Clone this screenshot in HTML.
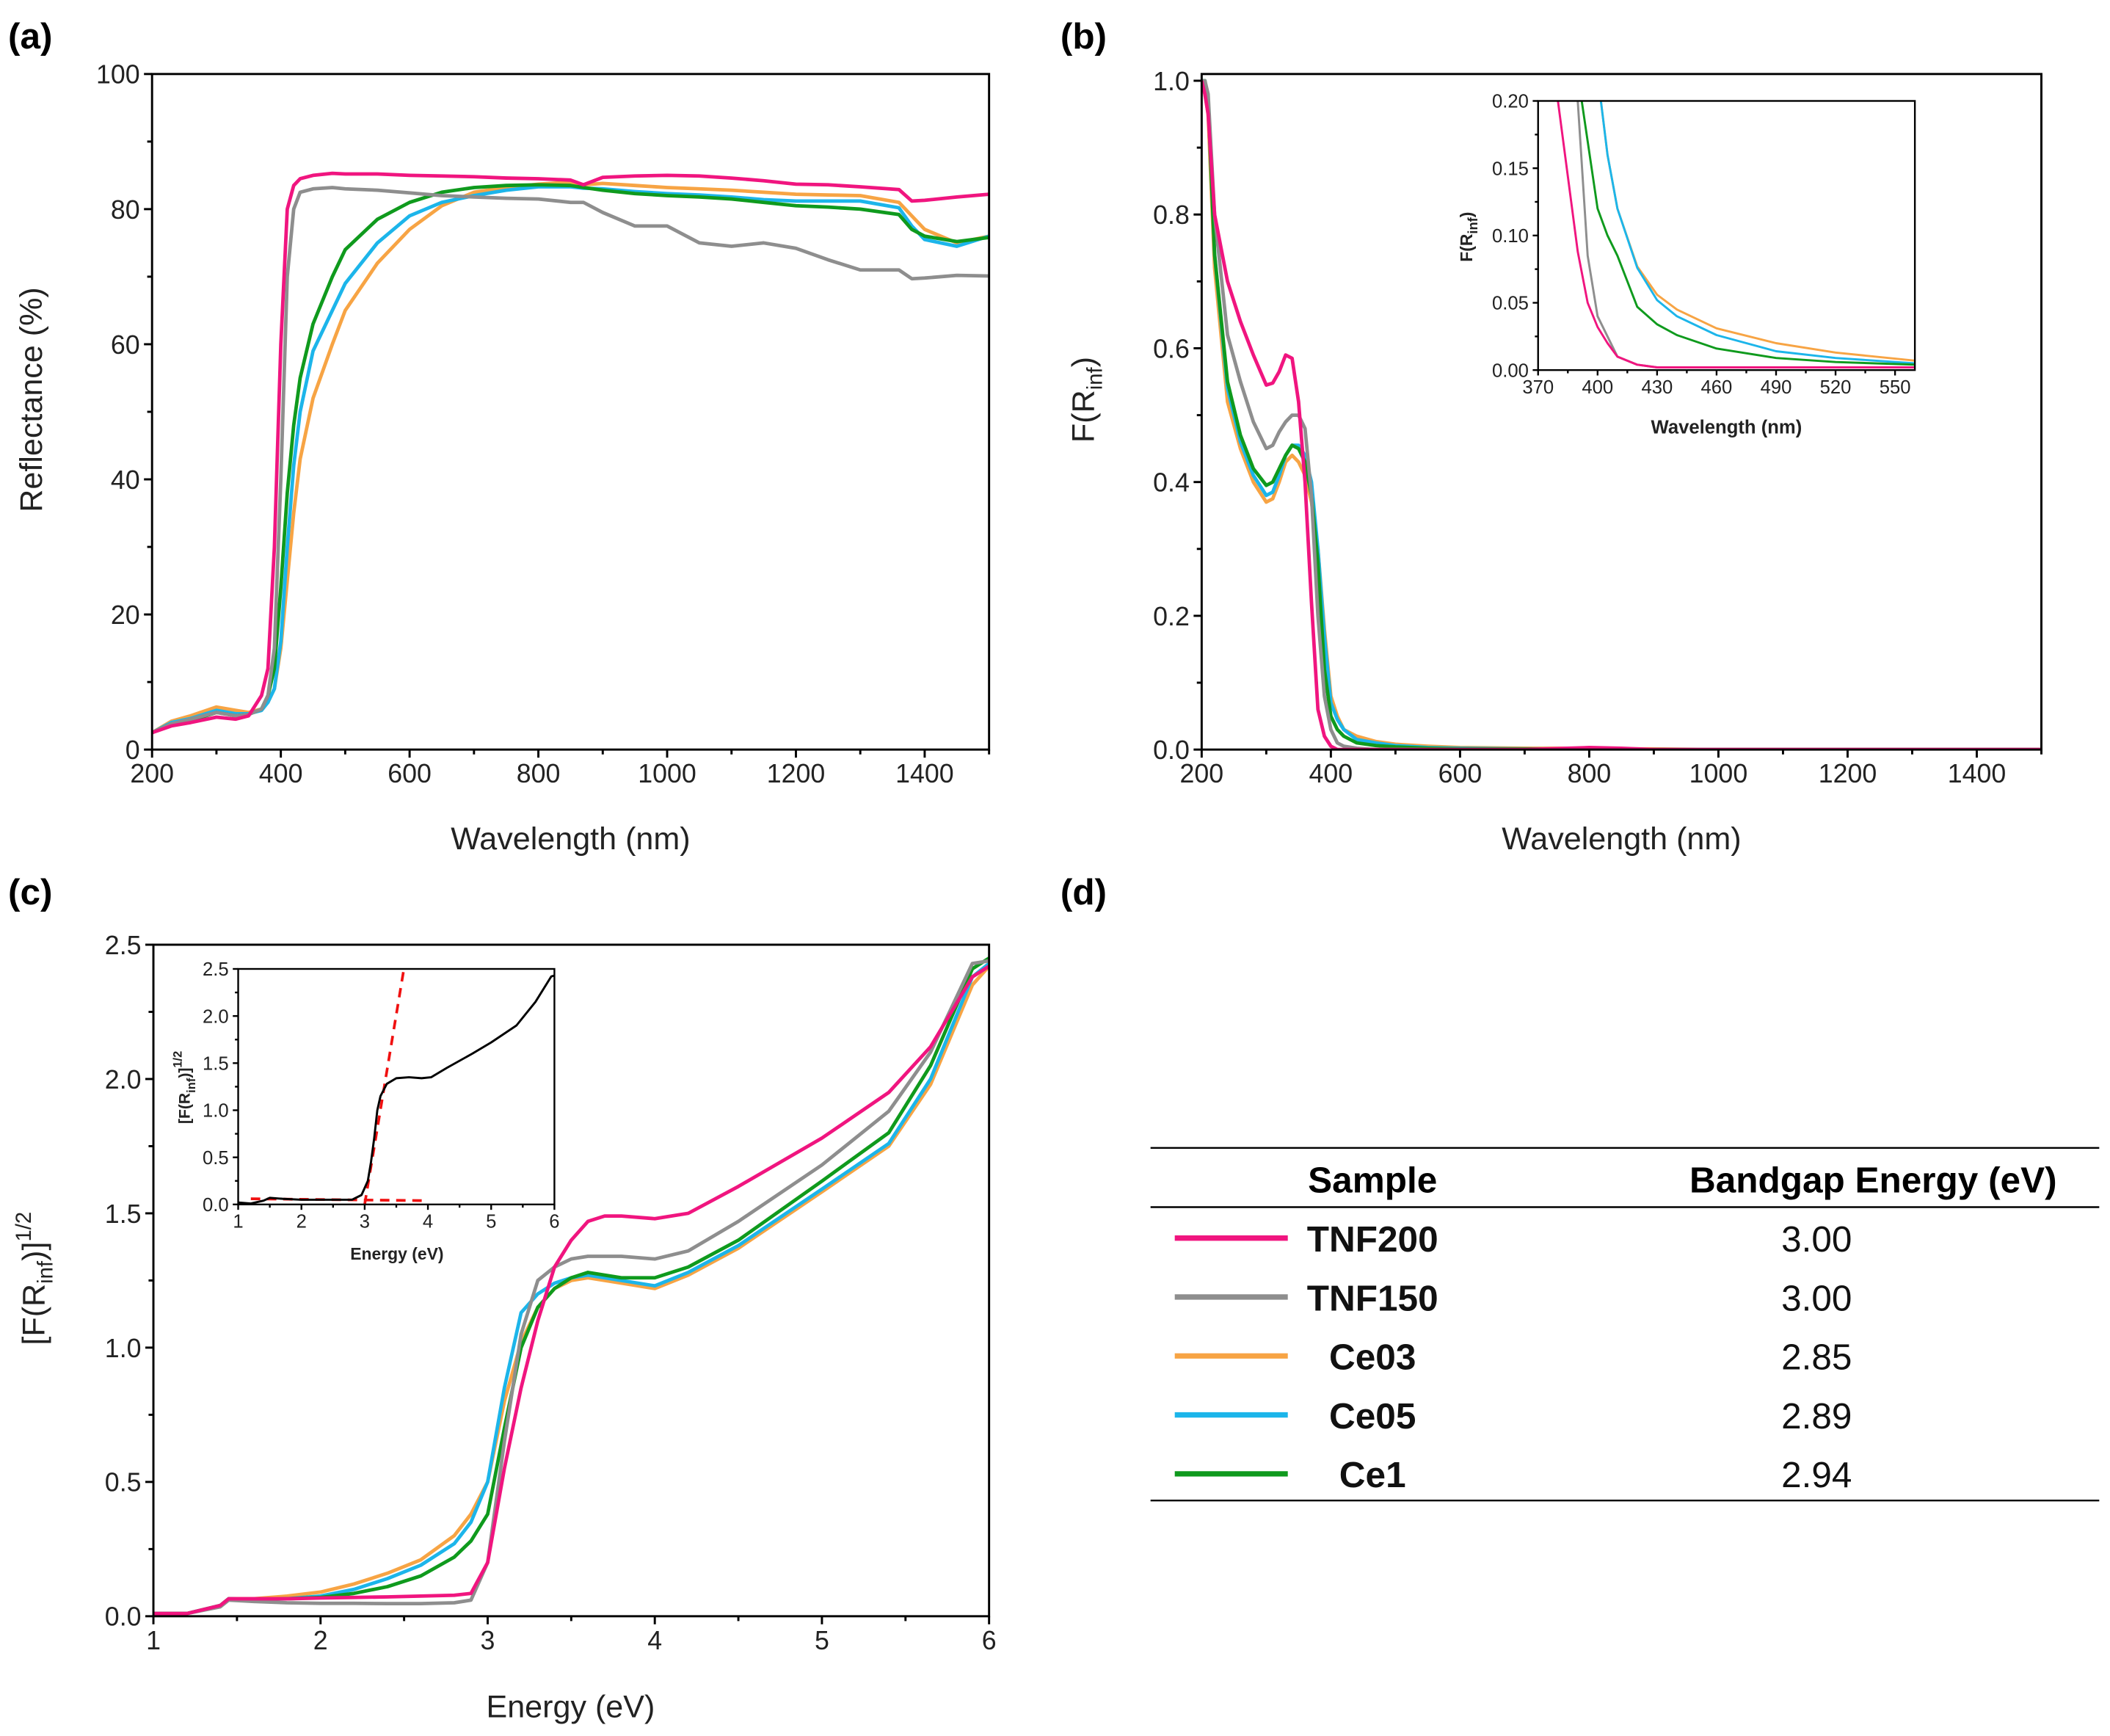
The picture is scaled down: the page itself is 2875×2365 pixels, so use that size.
<!DOCTYPE html>
<html><head><meta charset="utf-8">
<style>
html,body{margin:0;padding:0;background:#fff;}
svg{display:block;font-family:"Liberation Sans",Arial,sans-serif;}
</style></head>
<body>
<svg id="fig" width="2875" height="2365" viewBox="0 0 1568 1290" preserveAspectRatio="none" xmlns="http://www.w3.org/2000/svg">
<text x="6" y="36" font-size="27" font-weight="bold">(a)</text>
<text x="788" y="36" font-size="27" font-weight="bold">(b)</text>
<text x="6" y="672" font-size="27" font-weight="bold">(c)</text>
<text x="788" y="672" font-size="27" font-weight="bold">(d)</text>
<g id="layer"></g>
<g>
<line x1="855" y1="853" x2="1560" y2="853" stroke="#000" stroke-width="1.3"/>
<line x1="855" y1="897" x2="1560" y2="897" stroke="#000" stroke-width="1.3"/>
<line x1="855" y1="1115" x2="1560" y2="1115" stroke="#000" stroke-width="1.3"/>
<text x="1020" y="886" font-size="27" font-weight="bold" text-anchor="middle">Sample</text>
<text x="1392" y="886" font-size="27" font-weight="bold" text-anchor="middle">Bandgap Energy (eV)</text>
<g id="rows"></g>
</g>
</svg>
<script>
const NS="http://www.w3.org/2000/svg";
const colors={TNF200:"#f0157f",TNF150:"#8e8e8e",Ce03:"#f7a444",Ce05:"#1cb5ea",Ce1:"#0f9a1d"};
const order=["Ce03","Ce05","Ce1","TNF150","TNF200"];

// Panel (a) data
const aX=[200,230,260,300,330,350,370,380,390,400,410,420,430,450,480,500,550,600,650,700,750,800,850,870,900,950,1000,1050,1100,1150,1200,1250,1300,1360,1380,1400,1450,1500];
const aTNF200=[2.5,3.5,4,4.8,4.5,5,8,12,30,60,80,83.5,84.5,85,85.3,85.2,85.2,85,84.9,84.8,84.6,84.5,84.3,83.6,84.7,84.9,85,84.9,84.6,84.2,83.7,83.6,83.3,82.9,81.2,81.3,81.8,82.2];
const aTNF150=[2.5,3.8,4.5,5.5,5,5.2,6,8,15,40,70,80,82.5,83,83.2,83,82.8,82.4,82,81.8,81.6,81.5,81,81,79.5,77.5,77.5,75,74.5,75,74.2,72.5,71,71,69.7,69.8,70.2,70.1];
const aCe03=[2.5,4.2,5,6.3,5.8,5.5,6,7,9,15,25,35,43,52,60,65,72,77,80.5,82.5,83.2,83.7,84,83.6,83.8,83.5,83.2,83,82.8,82.5,82.2,82.1,82,81,79,77,75,76];
const aCe05=[2.5,4,4.6,5.8,5.3,5.3,5.8,7,9,16,30,42,50,59,65,69,75,79,81,82,82.8,83.3,83.3,83.1,83,82.6,82.3,82.1,81.8,81.4,81.2,81.2,81.2,80.2,77.5,75.5,74.5,76];
const aCe1=[2.5,3.8,4.3,5.5,5,5.2,6,8,12,24,38,48,55,63,70,74,78.5,81,82.5,83.2,83.5,83.6,83.5,83.2,82.8,82.3,82,81.8,81.5,81,80.5,80.3,80,79.2,77,76,75.2,75.8];
const aYTicks=[0,20,40,60,80,100];
const aXTicks=[200,400,600,800,1000,1200,1400];

// Panel (b) data
const bX=[200,205,210,220,240,260,280,300,310,320,330,340,350,360,370,380,390,400,410,420,440,470,500,550,600,700,800,850,900,1000,1500];
const bTNF200=[1.0,0.98,0.95,0.80,0.70,0.64,0.59,0.545,0.548,0.565,0.59,0.585,0.52,0.4,0.22,0.06,0.02,0.005,0,0,0,0,0,0,0,0,0.003,0.002,0,0,0];
const bTNF150=[1.0,1.0,0.98,0.80,0.62,0.55,0.49,0.45,0.455,0.475,0.49,0.5,0.5,0.48,0.38,0.2,0.08,0.03,0.01,0.005,0.002,0,0,0,0,0,0,0,0,0,0];
const bCe03=[1.0,0.98,0.95,0.72,0.52,0.45,0.40,0.37,0.375,0.40,0.43,0.44,0.43,0.41,0.37,0.3,0.18,0.08,0.05,0.03,0.02,0.012,0.008,0.005,0.003,0.002,0.002,0.001,0.001,0,0];
const bCe05=[1.0,1.0,0.97,0.74,0.54,0.46,0.41,0.38,0.385,0.41,0.44,0.455,0.455,0.44,0.4,0.3,0.17,0.07,0.045,0.03,0.015,0.01,0.006,0.003,0.002,0.001,0.001,0,0,0,0];
const bCe1=[1.0,1.0,0.97,0.74,0.55,0.47,0.42,0.395,0.4,0.42,0.44,0.455,0.45,0.43,0.38,0.28,0.12,0.05,0.03,0.02,0.01,0.006,0.004,0.002,0.001,0.001,0,0,0,0,0];
const bYTicks=[0,0.2,0.4,0.6,0.8,1.0];
const bXTicks=[200,400,600,800,1000,1200,1400];

// Inset (b) data
const biX=[370,380,390,395,400,405,410,420,430,440,460,490,520,560];
const biTNF200=[0.25,0.2,0.088,0.05,0.032,0.02,0.01,0.004,0.002,0.002,0.002,0.002,0.002,0.002];
const biTNF150=[0.4,0.3,0.2,0.085,0.04,0.025,0.01,0.004,0.002,0.002,0.002,0.002,0.002,0.002];
const biCe03=[0.6,0.45,0.32,0.26,0.22,0.16,0.12,0.077,0.056,0.045,0.031,0.02,0.013,0.007];
const biCe05=[0.6,0.45,0.32,0.26,0.22,0.16,0.12,0.076,0.052,0.04,0.026,0.014,0.009,0.005];
const biCe1=[0.5,0.35,0.22,0.17,0.12,0.1,0.085,0.047,0.034,0.026,0.016,0.009,0.006,0.004];
const biYTicks=[0,0.05,0.1,0.15,0.2];
const biYLabels=["0.00","0.05","0.10","0.15","0.20"];
const biXTicks=[370,400,430,460,490,520,550];

// Panel (c) data
const cX=[1,1.2,1.4,1.45,1.6,1.8,2,2.2,2.4,2.6,2.8,2.9,3,3.1,3.2,3.3,3.4,3.5,3.6,3.7,3.8,4,4.2,4.5,5,5.4,5.65,5.9,6];
const cTNF200=[0.01,0.01,0.04,0.065,0.065,0.065,0.068,0.07,0.072,0.075,0.078,0.085,0.2,0.55,0.85,1.1,1.3,1.4,1.47,1.49,1.49,1.48,1.5,1.6,1.78,1.95,2.12,2.38,2.42];
const cTNF150=[0.01,0.01,0.035,0.06,0.055,0.05,0.048,0.048,0.047,0.047,0.05,0.06,0.2,0.65,1.05,1.25,1.3,1.33,1.34,1.34,1.34,1.33,1.36,1.47,1.68,1.88,2.1,2.43,2.44];
const cCe03=[0.01,0.01,0.04,0.065,0.065,0.075,0.09,0.12,0.16,0.21,0.3,0.38,0.5,0.8,1.02,1.15,1.22,1.25,1.26,1.25,1.24,1.22,1.27,1.37,1.58,1.75,1.98,2.35,2.42];
const cCe05=[0.01,0.01,0.04,0.065,0.062,0.065,0.075,0.1,0.14,0.19,0.27,0.35,0.5,0.85,1.13,1.2,1.24,1.26,1.27,1.26,1.25,1.23,1.28,1.38,1.59,1.76,2.0,2.38,2.43];
const cCe1=[0.01,0.01,0.04,0.065,0.062,0.065,0.07,0.085,0.11,0.15,0.22,0.28,0.38,0.7,1.0,1.15,1.22,1.26,1.28,1.27,1.26,1.26,1.3,1.4,1.62,1.8,2.05,2.41,2.45];
const cYTicks=[0,0.5,1.0,1.5,2.0,2.5];
const cXTicks=[1,2,3,4,5,6];

// Inset (c) data
const ciX=[1,1.2,1.4,1.5,1.7,2,2.5,2.8,2.95,3.05,3.1,3.15,3.2,3.25,3.35,3.5,3.7,3.9,4.05,4.3,4.7,5.0,5.4,5.7,5.95,6];
const ciY=[0.02,0.01,0.04,0.07,0.06,0.05,0.05,0.05,0.1,0.25,0.45,0.7,1.0,1.15,1.28,1.34,1.35,1.34,1.35,1.45,1.6,1.72,1.9,2.15,2.42,2.43];
const ciBaseX=[1.2,4.0];
const ciBaseY=[0.06,0.04];
const ciFitX=[3.0,3.62];
const ciFitY=[0,2.5];

// Table data
const tSamples=["TNF200","TNF150","Ce03","Ce05","Ce1"];
const tBandgap=["3.00","3.00","2.85","2.89","2.94"];

const layer=document.getElementById('layer');
function el(tag,attrs,parent){const e=document.createElementNS(NS,tag);for(const k in attrs)e.setAttribute(k,attrs[k]);(parent||layer).appendChild(e);return e;}
function lin(d0,d1,r0,r1){return v=>r0+(v-d0)*(r1-r0)/(d1-d0);}

function axes(cfg){
  const g=el('g',{});
  
  
  const sx=lin(cfg.xd[0],cfg.xd[1],cfg.L,cfg.R), sy=lin(cfg.yd[0],cfg.yd[1],cfg.B,cfg.yTopPx);
  const cid='clip-'+cfg.name;
  const cp=el('clipPath',{id:cid},g);
  el('rect',{x:cfg.L,y:cfg.T,width:cfg.R-cfg.L,height:cfg.B-cfg.T},cp);
  const tl=cfg.tick, fs=cfg.fs;
  cfg.yTicks.forEach((v,i)=>{
    const y=sy(v);
    el('line',{x1:cfg.L-tl,y1:y,x2:cfg.L,y2:y,stroke:'#000','stroke-width':cfg.sw},g);
    const t=el('text',{x:cfg.L-tl-3,y:y+fs*0.36,'font-size':fs,'text-anchor':'end','font-weight':cfg.bold?'bold':'normal',fill:'#222'},g);
    t.textContent=cfg.yLabels?cfg.yLabels[i]:cfg.yFmt(v);
    
    
  });
  for(let i=0;i<cfg.yTicks.length-1;i++){
    const y=sy((cfg.yTicks[i]+cfg.yTicks[i+1])/2);
    el('line',{x1:cfg.L-tl*0.6,y1:y,x2:cfg.L,y2:y,stroke:'#000','stroke-width':cfg.sw},g);
  }
  cfg.xTicks.forEach((v,i)=>{
    const x=sx(v);
    el('line',{x1:x,y1:cfg.B,x2:x,y2:cfg.B+tl,stroke:'#000','stroke-width':cfg.sw},g);
    const t=el('text',{x:x,y:cfg.B+tl+fs*0.95,'font-size':fs,'text-anchor':'middle','font-weight':cfg.bold?'bold':'normal',fill:'#222'},g);
    t.textContent=cfg.xFmt(v);
    
    
  });
  for(let i=0;i<cfg.xTicks.length;i++){
    const a=cfg.xTicks[i], b=i+1<cfg.xTicks.length?cfg.xTicks[i+1]:a+(a-cfg.xTicks[i-1]);
    const m=(a+b)/2; if(m<cfg.xd[1]+1e-9){const x=sx(m);
    el('line',{x1:x,y1:cfg.B,x2:x,y2:cfg.B+tl*0.6,stroke:'#000','stroke-width':cfg.sw},g);}
  }
  const sg=el('g',{'clip-path':'url(#'+cid+')'},g);
  cfg.series.forEach(s=>{
    let d='';
    s.x.forEach((xv,i)=>{d+=(i?'L':'M')+sx(xv).toFixed(2)+','+sy(s.y[i]).toFixed(2);});
    const p=el('path',{d:d,fill:'none',stroke:s.color,'stroke-width':s.w,'stroke-linejoin':'round','stroke-dasharray':s.dash||'none'},sg);
    
    
  });
  el('rect',{x:cfg.L,y:cfg.T,width:cfg.R-cfg.L,height:cfg.B-cfg.T,fill:'none',stroke:'#000','stroke-width':cfg.sw},g);
  return {g,sx,sy};
}
function sers(prefix,x,map,w){return order.map(k=>({name:prefix+'-'+k.toLowerCase()+'-line',x:x,y:map[k],color:colors[k],w:w}));}

axes({name:'reflectance-chart',L:113,R:735,T:55,B:557,yTopPx:55,xd:[200,1500],yd:[0,100],tick:6,fs:19.5,sw:1.6,
  yTicks:aYTicks,xTicks:aXTicks,yFmt:v=>String(v),xFmt:v=>String(v),
  series:sers('reflectance',aX,{TNF200:aTNF200,TNF150:aTNF150,Ce03:aCe03,Ce05:aCe05,Ce1:aCe1},2.6)});
axes({name:'km-function-chart',L:893,R:1517,T:55,B:557,yTopPx:60,xd:[200,1500],yd:[0,1],tick:6,fs:19.5,sw:1.6,
  yTicks:bYTicks,xTicks:bXTicks,yFmt:v=>v.toFixed(1),xFmt:v=>String(v),
  series:sers('km',bX,{TNF200:bTNF200,TNF150:bTNF150,Ce03:bCe03,Ce05:bCe05,Ce1:bCe1},2.6)});
axes({name:'km-inset-chart',L:1143,R:1423,T:75,B:275,yTopPx:75,xd:[370,560],yd:[0,0.2],tick:4,fs:14,sw:1.3,
  yTicks:biYTicks,yLabels:biYLabels,xTicks:biXTicks,xFmt:v=>String(v),
  series:sers('km-inset',biX,{TNF200:biTNF200,TNF150:biTNF150,Ce03:biCe03,Ce05:biCe05,Ce1:biCe1},1.6)});
axes({name:'tauc-chart',L:114,R:735,T:702,B:1201,yTopPx:702,xd:[1,6],yd:[0,2.5],tick:6,fs:19.5,sw:1.6,
  yTicks:cYTicks,xTicks:cXTicks,yFmt:v=>v.toFixed(1),xFmt:v=>String(v),
  series:sers('tauc',cX,{TNF200:cTNF200,TNF150:cTNF150,Ce03:cCe03,Ce05:cCe05,Ce1:cCe1},2.6)});
axes({name:'tauc-inset-chart',L:177,R:412,T:720,B:895,yTopPx:720,xd:[1,6],yd:[0,2.5],tick:4,fs:14,sw:1.3,
  yTicks:cYTicks,xTicks:cXTicks,yFmt:v=>v.toFixed(1),xFmt:v=>String(v),
  series:[{name:'tauc-inset-baseline-fit',x:ciBaseX,y:ciBaseY,color:'#f01010',w:2,dash:'7,5'},
          {name:'tauc-inset-edge-fit',x:ciFitX,y:ciFitY,color:'#f01010',w:2,dash:'7,5'},
          {name:'tauc-inset-curve',x:ciX,y:ciY,color:'#000',w:1.6}]});

function title(txt,x,y,fs,rot,bold,name){
  const t=el('text',{x:x,y:y,'font-size':fs,'text-anchor':'middle','font-weight':bold?'bold':'normal',fill:'#222',transform:rot?`rotate(-90 ${x} ${y})`:''});
  t.innerHTML=txt;
  
  
}
title('Wavelength (nm)',424,631,23.5,false,false,'x-axis-title-a');
title('Reflectance (%)',31,297,23.5,true,false,'y-axis-title-a');
title('Wavelength (nm)',1205,631,23.5,false,false,'x-axis-title-b');
title('F(R<tspan font-size="16" dy="6">inf</tspan><tspan dy="-6">)</tspan>',813,297,23.5,true,false,'y-axis-title-b');
title('Wavelength (nm)',1283,322,14,false,true,'x-axis-title-inset-b');
title('F(R<tspan font-size="10" dy="4">inf</tspan><tspan dy="-4">)</tspan>',1094,176,12.5,true,true,'y-axis-title-inset-b');
title('Energy (eV)',424,1276,23.5,false,false,'x-axis-title-c');
title('[F(R<tspan font-size="16" dy="6">inf</tspan><tspan dy="-6">)]</tspan><tspan font-size="16" dy="-10">1/2</tspan>',33,950,23.5,true,false,'y-axis-title-c');
title('Energy (eV)',295,936,12.5,false,true,'x-axis-title-inset-c');
title('[F(R<tspan font-size="9" dy="4">inf</tspan><tspan dy="-4">)]</tspan><tspan font-size="9" dy="-6">1/2</tspan>',141,808,11.5,true,true,'y-axis-title-inset-c');

const rows=document.getElementById('rows');
tSamples.forEach((s,i)=>{
  const y=920+i*43.8;
  const g=el('g',{},rows);
  
  
  el('line',{x1:873,y1:y,x2:957,y2:y,stroke:colors[s],'stroke-width':4},g);
  const t=el('text',{x:1020,y:y+10,'font-size':27,'font-weight':'bold','text-anchor':'middle',fill:'#111'},g);
  t.textContent=s;
  const v=el('text',{x:1350,y:y+10,'font-size':27,'text-anchor':'middle',fill:'#111'},g);
  v.textContent=tBandgap[i];
});
</script>
</body></html>
